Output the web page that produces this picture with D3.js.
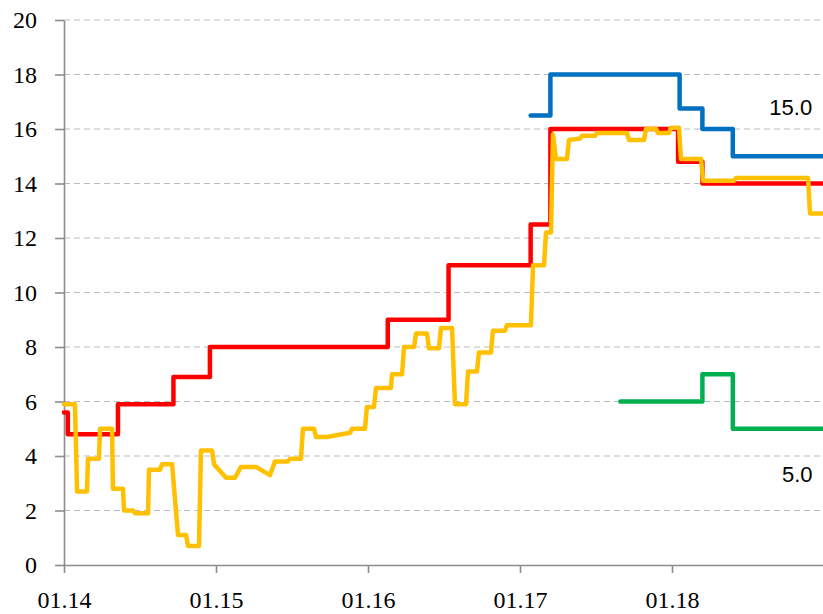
<!DOCTYPE html>
<html>
<head>
<meta charset="utf-8">
<script src="https://cdn.jsdelivr.net/npm/d3@7"></script>
<style>
  body { margin: 0; background: #fff; }
  .tick text { font-family: "Liberation Serif", "DejaVu Serif", serif; font-size: 24px; }
  .end-label { font-family: "Liberation Sans", Arial, sans-serif; font-size: 22px; }
</style>
</head>
<body>
<div id="chart"></div>
<script>
// Werte als [Jahr (dezimal), Wert]
const yearTicks = [2014, 2015, 2016, 2017, 2018];
const yTicks = [0, 2, 4, 6, 8, 10, 12, 14, 16, 18, 20];

// Stufenreihen (Wert gilt ab dem Datum)
const redSeries = [
    [2014.0, 5.6], [2014.025, 4.8], [2014.355, 5.9], [2014.72, 6.9], [2014.96, 8.0],
    [2016.13, 9.0], [2016.53, 11.0], [2017.07, 12.5], [2017.2, 16.0], [2018.04, 14.8],
    [2018.2, 14.0], [2019.0, 14.0]
];

const blueSeries = [
    [2017.07, 16.5], [2017.2, 18.0], [2018.05, 16.75], [2018.2, 16.0], [2018.4, 15.0], [2019.0, 15.0]
];

const greenSeries = [
    [2017.66, 6.0], [2018.2, 7.0], [2018.4, 5.0], [2019.0, 5.0]
];

const orangeSeries = [
    [2014.0, 5.9], [2014.072, 5.9], [2014.086, 2.7], [2014.151, 2.7], [2014.158, 3.9],
    [2014.23, 3.9], [2014.237, 5.0], [2014.316, 5.0], [2014.322, 2.8], [2014.388, 2.8],
    [2014.395, 2.0], [2014.454, 2.0], [2014.467, 1.9], [2014.553, 1.9], [2014.559, 3.5],
    [2014.632, 3.5], [2014.645, 3.7], [2014.711, 3.7], [2014.75, 1.1], [2014.803, 1.1],
    [2014.816, 0.7], [2014.888, 0.7], [2014.901, 4.2], [2014.974, 4.2], [2014.987, 3.7],
    [2015.066, 3.2], [2015.125, 3.2], [2015.164, 3.6], [2015.263, 3.6], [2015.355, 3.3],
    [2015.388, 3.8], [2015.474, 3.8], [2015.487, 3.9], [2015.559, 3.9], [2015.572, 5.0],
    [2015.645, 5.0], [2015.658, 4.7], [2015.73, 4.7], [2015.882, 4.85], [2015.895, 5.0],
    [2015.98, 5.0], [2015.993, 5.8], [2016.039, 5.8], [2016.053, 6.5], [2016.151, 6.5],
    [2016.158, 7.0], [2016.224, 7.0], [2016.237, 8.0], [2016.303, 8.0], [2016.316, 8.5],
    [2016.388, 8.5], [2016.401, 7.95], [2016.467, 7.95], [2016.48, 8.7], [2016.553, 8.7],
    [2016.572, 5.9], [2016.645, 5.9], [2016.658, 7.1], [2016.717, 7.1], [2016.73, 7.8],
    [2016.809, 7.8], [2016.822, 8.6], [2016.901, 8.6], [2016.914, 8.8], [2017.072, 8.8],
    [2017.086, 11.0], [2017.158, 11.0], [2017.171, 12.2], [2017.204, 12.2], [2017.217, 15.8],
    [2017.237, 14.9], [2017.309, 14.9], [2017.322, 15.6], [2017.395, 15.65], [2017.408, 15.75],
    [2017.493, 15.75], [2017.507, 15.85], [2017.704, 15.85], [2017.717, 15.6], [2017.816, 15.6],
    [2017.829, 16.0], [2017.895, 16.0], [2017.908, 15.85], [2017.98, 15.85], [2017.993, 16.05],
    [2018.046, 16.05], [2018.059, 14.9], [2018.191, 14.9], [2018.204, 14.1], [2018.408, 14.1],
    [2018.421, 14.2], [2018.895, 14.2], [2018.908, 12.9], [2019.0, 12.9]
];

const endLabels = [
    { text: "15.0", year: 2018.922, value: 16.5 },
    { text: "5.0", year: 2018.925, value: 3.05 }
];

function drawChart() {
    const width = 823;
    const height = 614;
    const margin = { top: 20, right: 0, bottom: 49, left: 64 };

    const svg = d3.select("#chart")
        .append("svg")
        .attr("width", width)
        .attr("height", height);

    const x = d3.scaleLinear()
        .domain([2014, 2019])
        .range([margin.left, 824]);

    const y = d3.scaleLinear()
        .domain([0, 20])
        .range([height - margin.bottom, margin.top]);

    // Gitterlinien
    svg.append("g")
        .selectAll("line")
        .data(yTicks.filter(d => d > 0))
        .enter()
        .append("line")
        .attr("x1", margin.left)
        .attr("x2", width)
        .attr("y1", d => y(d))
        .attr("y2", d => y(d))
        .attr("stroke", "#bdbdbd")
        .attr("stroke-width", 1.2)
        .attr("stroke-dasharray", "6,4");

    // Achsen
    const yAxis = svg.append("g")
        .attr("transform", `translate(${margin.left},0)`)
        .call(d3.axisLeft(y).tickValues(yTicks).tickSize(9).tickPadding(18).tickSizeOuter(0));

    const xAxis = svg.append("g")
        .attr("transform", `translate(0,${y(0)})`)
        .call(d3.axisBottom(x).tickValues(yearTicks).tickSize(8).tickSizeOuter(0)
            .tickFormat(d => "01." + String(d).slice(2)));

    [yAxis, xAxis].forEach(ax => {
        ax.attr("font-family", null).attr("font-size", null);
        ax.select(".domain").attr("stroke", "#8c8c8c").attr("stroke-width", 1.6);
        ax.selectAll(".tick line").attr("stroke", "#8c8c8c").attr("stroke-width", 1.6);
        ax.selectAll(".tick text").attr("fill", "#000");
    });
    xAxis.selectAll(".tick text").attr("y", 26);

    const stepLine = d3.line()
        .x(d => x(d[0]))
        .y(d => y(d[1]))
        .curve(d3.curveStepAfter);

    const plainLine = d3.line()
        .x(d => x(d[0]))
        .y(d => y(d[1]));

    const series = [
        { data: redSeries, color: "#ff0000", gen: stepLine },
        { data: blueSeries, color: "#0070c0", gen: stepLine },
        { data: greenSeries, color: "#00b050", gen: stepLine },
        { data: orangeSeries, color: "#ffc000", gen: plainLine }
    ];

    series.forEach(s => {
        svg.append("path")
            .datum(s.data)
            .attr("d", s.gen)
            .attr("fill", "none")
            .attr("stroke", s.color)
            .attr("stroke-width", 4.5)
            .attr("stroke-linejoin", "round")
            .attr("stroke-linecap", "round");
    });

    svg.append("g")
        .selectAll("text")
        .data(endLabels)
        .enter()
        .append("text")
        .attr("class", "end-label")
        .attr("x", d => x(d.year))
        .attr("y", d => y(d.value))
        .attr("text-anchor", "end")
        .attr("fill", "#000")
        .text(d => d.text);
}

drawChart();
</script>
</body>
</html>
